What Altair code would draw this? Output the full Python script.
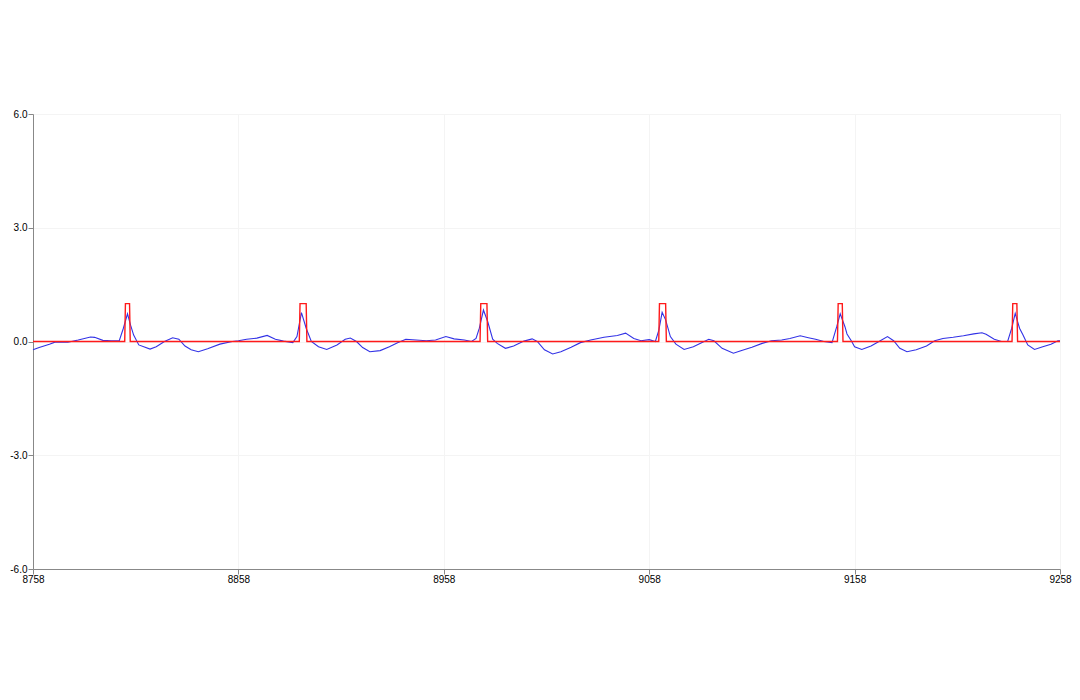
import altair as alt
import pandas as pd

# x ticks and y ticks
x_ticks = [8758, 8858, 8958, 9058, 9158, 9258]
y_ticks = [-6.0, -3.0, 0.0, 3.0, 6.0]

# red pulse train (value 1 between start and end, 0 otherwise)
pulse_start = [8803, 8888, 8976, 9063, 9150, 9235]
pulse_end = [8805, 8891, 8979, 9066, 9152, 9237]

# blue signal
blue_t = [8758, 8761, 8766, 8769, 8775, 8780, 8786, 8788, 8792, 8796,
          8800, 8802, 8804, 8805.5, 8807, 8809.5, 8815, 8818, 8822, 8826,
          8829, 8832, 8835, 8838.5, 8843, 8849, 8855, 8858, 8862, 8867,
          8872, 8876, 8880, 8884.5, 8886.5, 8888.7, 8891, 8893.5, 8897, 8901,
          8906, 8910, 8912.5, 8915.5, 8918.5, 8922, 8927, 8931.5, 8935.5, 8939.5,
          8944.5, 8949.5, 8954, 8959, 8963, 8968, 8971.5, 8973.7, 8975.3, 8977.3,
          8979.4, 8981.8, 8984, 8988, 8992, 8997, 9001, 9003.5, 9007, 9011,
          9015, 9020, 9024.5, 9029.5, 9036, 9042.5, 9046.5, 9050.5, 9054, 9058,
          9061, 9062.7, 9064.3, 9066, 9068.3, 9071, 9075, 9079.5, 9083.5, 9087,
          9089.5, 9093.5, 9099, 9103, 9108, 9113, 9117.5, 9122.5, 9126.5, 9131.5,
          9135.5, 9139, 9143, 9147, 9149.3, 9151, 9153.3, 9154.3, 9156.6, 9158,
          9161.5, 9166, 9170.5, 9174, 9177, 9180, 9183.5, 9188, 9193, 9197,
          9201, 9206, 9211, 9216, 9220, 9222, 9226, 9229.5, 9232.5, 9234.5,
          9236.2, 9238.3, 9240, 9242.3, 9245.6, 9249.6, 9253.6, 9257, 9258]
blue_v = [-0.22, -0.16, -0.07, -0.01, -0.02, 0.04, 0.12, 0.11, 0.03, 0.02,
          0.02, 0.35, 0.73, 0.43, 0.17, -0.09, -0.20, -0.14, 0.00, 0.10,
          0.06, -0.12, -0.22, -0.27, -0.19, -0.07, 0.00, 0.02, 0.06, 0.09,
          0.16, 0.06, 0.01, -0.03, 0.13, 0.76, 0.35, 0.00, -0.14, -0.21,
          -0.09, 0.06, 0.09, 0.00, -0.16, -0.27, -0.24, -0.14, -0.03, 0.06,
          0.04, 0.02, 0.04, 0.13, 0.07, 0.04, 0.00, 0.08, 0.35, 0.83,
          0.52, 0.06, -0.05, -0.18, -0.12, 0.01, 0.07, 0.00, -0.22, -0.33,
          -0.27, -0.15, -0.03, 0.04, 0.11, 0.16, 0.22, 0.08, 0.02, 0.05,
          0.00, 0.30, 0.77, 0.57, 0.13, -0.07, -0.21, -0.14, -0.03, 0.06,
          0.02, -0.18, -0.31, -0.24, -0.15, -0.05, 0.02, 0.04, 0.08, 0.15,
          0.10, 0.06, 0.00, -0.03, 0.39, 0.73, 0.39, 0.20, 0.00, -0.14,
          -0.21, -0.12, 0.02, 0.13, 0.02, -0.18, -0.27, -0.22, -0.12, 0.02,
          0.08, 0.11, 0.15, 0.20, 0.23, 0.19, 0.06, 0.00, 0.00, 0.35,
          0.74, 0.35, 0.17, -0.09, -0.21, -0.14, -0.07, 0.02, 0.02]
assert len(blue_t) == len(blue_v)

blue_df = pd.DataFrame({"t": blue_t, "v": blue_v})

red_t = [x_ticks[0]]
red_v = [0.0]
for s, e in zip(pulse_start, pulse_end):
    red_t += [s - 0.35, s, e, e + 0.35]
    red_v += [0.0, 1.0, 1.0, 0.0]
red_t.append(x_ticks[-1])
red_v.append(0.0)
red_df = pd.DataFrame({"t": red_t, "v": red_v})

GRID = "#f4f4f4"

x_enc = alt.X(
    "t:Q",
    scale=alt.Scale(domain=[x_ticks[0], x_ticks[-1]], nice=False, zero=False),
    axis=alt.Axis(values=x_ticks, format="d", title=None, labelFlush=False,
                  tickSize=5, labelPadding=0, gridColor=GRID),
)
y_enc = alt.Y(
    "v:Q",
    scale=alt.Scale(domain=[y_ticks[0], y_ticks[-1]], nice=False),
    axis=alt.Axis(values=y_ticks, title=None, tickSize=5, labelPadding=1,
                  gridColor=GRID,
                  labelExpr="replace(format(datum.value, '.1f'), '\u2212', '-')"),
)

blue = alt.Chart(blue_df).mark_line(color="#3232e6", strokeWidth=1.1).encode(x=x_enc, y=y_enc)
red = alt.Chart(red_df).mark_line(color="#ff1a1a", strokeWidth=1.4).encode(x=x_enc, y=y_enc)

chart = (
    alt.layer(blue, red)
    .properties(
        width=1027,
        height=455,
        autosize=alt.AutoSizeParams(type="none"),
        padding={"left": 25, "top": 106, "right": 12, "bottom": 24},
    )
    .configure_view(stroke=None)
    .configure_axis(
        domainColor="#333333",
        tickColor="#333333",
        labelColor="#333333",
        labelFont="DejaVu Sans",
        labelFontSize=10,
        domainWidth=1,
        tickWidth=1,
    )
    .configure(background="white")
)

chart.save("out.html", embed_options={"renderer": "svg", "actions": False})
